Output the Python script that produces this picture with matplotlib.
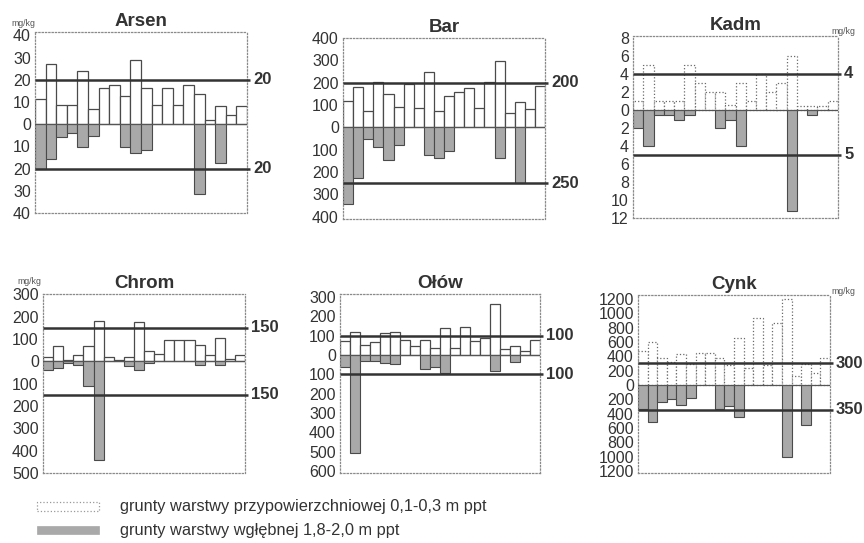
import matplotlib
matplotlib.use('Agg')
import matplotlib.pyplot as plt
import matplotlib.transforms as mtransforms
from matplotlib.patches import Rectangle
import numpy as np

plt.rcParams['font.family'] = ['Liberation Sans', 'DejaVu Sans']

# ---------------- data (mg/kg) ----------------
samples = list(range(1, 21))

arsen_surface = [11.2, 27, 8.5, 8.5, 24, 7, 16.5, 17.6, 12.6, 29, 16.5, 8.5, 16.5, 8.5, 17.6, 13.5, 2, 8, 4.2, 8]
arsen_deep = [20, 15.5, 5.9, 3.9, 10.5, 5.2, 0, 0, 10.2, 13.2, 11.5, 0, 0, 0, 0, 31.5, 0, 17.7, 0, 0]

bar_surface = [118, 180, 72, 205, 148, 92, 194, 86, 248, 74, 140, 160, 175, 86, 205, 295, 65, 112, 83, 185]
bar_deep = [345, 225, 50, 90, 148, 80, 0, 0, 124, 139, 104, 0, 0, 0, 0, 136, 0, 248, 0, 0]

kadm_surface = [1, 5, 1, 1, 1, 5, 3, 2, 2, 0.5, 3, 1, 4, 2, 3, 6, 0.45, 0.45, 0.45, 0.95]
kadm_deep = [2, 4, 0.6, 0.6, 1.1, 0.6, 0, 0, 2, 1.1, 4, 0, 0, 0, 0, 11.2, 0, 0.6, 0, 0]

chrom_surface = [20, 68, 5, 27, 67, 180, 20, 7.5, 20, 177, 47, 32, 98, 98, 98, 73, 27, 107, 12, 27]
chrom_deep = [38, 30, 6, 15, 112, 441, 0, 0, 21, 38, 8, 0, 0, 0, 0, 14, 0, 14, 0, 0]

olow_surface = [74, 121, 52, 69, 112, 121, 78, 48, 78, 34, 141, 34, 147, 74, 90, 262, 29, 48, 22, 78]
olow_deep = [62, 505, 29, 31, 43, 48, 0, 0, 71, 62, 95, 0, 0, 0, 0, 81, 0, 38, 0, 0]

cynk_surface = [474, 596, 381, 325, 428, 290, 440, 440, 381, 280, 660, 230, 930, 280, 860, 1200, 125, 290, 172, 372]
cynk_deep = [330, 520, 233, 200, 283, 177, 0, 0, 335, 293, 450, 0, 0, 0, 0, 1009, 0, 554, 0, 0]

titles = ['Arsen', 'Bar', 'Kadm', 'Chrom', 'Ołów', 'Cynk']
limits_surface = [20, 200, 4, 150, 100, 300]
limits_deep = [20, 250, 5, 150, 100, 350]
ticks_up = [[0, 10, 20, 30, 40], [0, 100, 200, 300, 400], [0, 2, 4, 6, 8],
            [0, 100, 200, 300], [0, 100, 200, 300], [0, 200, 400, 600, 800, 1000, 1200]]
ticks_down = [[10, 20, 30, 40], [100, 200, 300, 400], [2, 4, 6, 8, 10, 12],
              [100, 200, 300, 400, 500], [100, 200, 300, 400, 500, 600],
              [200, 400, 600, 800, 1000, 1200]]
legend_labels = ['grunty warstwy przypowierzchniowej 0,1-0,3 m ppt',
                 'grunty warstwy wgłębnej 1,8-2,0 m ppt']
unit = 'mg/kg'

surfaces = [arsen_surface, bar_surface, kadm_surface, chrom_surface, olow_surface, cynk_surface]
deeps = [arsen_deep, bar_deep, kadm_deep, chrom_deep, olow_deep, cynk_deep]

# ---------------- layout ----------------
W, H = 864, 543
fig = plt.figure(figsize=(W / 100, H / 100), dpi=100)
fig.patch.set_facecolor('white')

boxes = [(35, 32, 247, 213), (343, 38, 545, 219), (633, 36, 838, 218),
         (43, 294, 245, 473), (340, 294, 540, 473), (638, 295, 830, 473)]
ylims = [(-40, 41.5), (-410, 400), (-12, 8.2), (-495, 302), (-610, 315), (-1230, 1255)]
surface_edge_style = ['-', '-', ':', '-', '-', ':']

TXT = '#333333'
GRAY = '#a9a9a9'
EDGE = '#4a4a4a'

for i in range(6):
    x0, yt, x1, yb = boxes[i]
    ax = fig.add_axes([x0 / W, 1 - yb / H, (x1 - x0) / W, (yb - yt) / H])
    x = np.arange(len(samples))
    dotted = surface_edge_style[i] == ':'
    ax.bar(x, surfaces[i], width=1.0, color='white',
           edgecolor='#6a6a6a' if dotted else EDGE,
           linewidth=0.9, linestyle=surface_edge_style[i], zorder=2)
    ax.bar(x, -np.array(deeps[i]), width=1.0, color=GRAY, edgecolor=EDGE, linewidth=0.8, zorder=2)
    ax.axhline(0, color='#555555', lw=0.8, zorder=3)
    ax.set_xlim(-0.5, len(samples) - 0.5)
    ax.set_ylim(*ylims[i])
    ax.set_xticks([])
    pos = list(ticks_up[i]) + [-t for t in ticks_down[i]]
    labs = [str(t) for t in ticks_up[i]] + [str(t) for t in ticks_down[i]]
    ax.set_yticks(pos)
    ax.set_yticklabels(labs, fontsize=11.5, color=TXT)
    ax.tick_params(axis='y', length=0, pad=3)
    for s in ax.spines.values():
        s.set_linestyle(':')
        s.set_color('#8a8a8a')
        s.set_linewidth(0.9)
    ax.set_title(titles[i], fontsize=13.5, fontweight='bold', color=TXT, pad=4)
    tr = mtransforms.blended_transform_factory(ax.transAxes, ax.transData)
    for val in (limits_surface[i], -limits_deep[i]):
        ax.plot([0, 1.015], [val, val], color='#333333', lw=1.8, transform=tr,
                clip_on=False, zorder=4, solid_capstyle='butt')
        ax.text(1.03, val, str(abs(val)), transform=tr, ha='left', va='center',
                fontsize=12, fontweight='bold', color=TXT)

# unit labels
for (ux, uy) in [(23, 23), (29, 281), (843, 31), (843, 291)]:
    fig.text(ux / W, 1 - uy / H, unit, fontsize=6.3, color='#555555', ha='center', va='center')

# legend
fig.patches.append(Rectangle((37 / W, 1 - 511 / H), 62 / W, 9 / H, transform=fig.transFigure,
                             facecolor='white', edgecolor='#999999', linestyle=':', linewidth=0.9))
fig.patches.append(Rectangle((37 / W, 1 - 534 / H), 62 / W, 8 / H, transform=fig.transFigure,
                             facecolor=GRAY, edgecolor=GRAY, linewidth=0.5))
fig.text(120 / W, 1 - 507 / H, legend_labels[0], fontsize=11.8, color=TXT, va='center', ha='left')
fig.text(120 / W, 1 - 530 / H, legend_labels[1], fontsize=11.8, color=TXT, va='center', ha='left')

fig.savefig('out.png', dpi=100, facecolor='white')
